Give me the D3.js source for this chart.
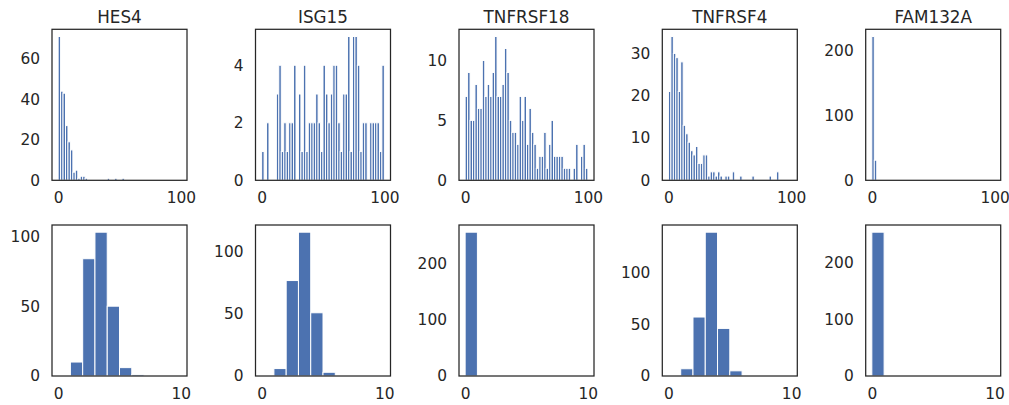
<!DOCTYPE html>
<html>
<head>
<meta charset="utf-8">
<script src="https://cdn.jsdelivr.net/npm/d3@7"></script>
<style>
    body { margin: 0; background: #fff; }
    svg { display: block; }
    text { font-family: "DejaVu Sans", sans-serif; fill: #262626; }
</style>
</head>
<body>
<svg id="chart" width="1009" height="405"></svg>
<script>
const genes = ["HES4", "ISG15", "TNFRSF18", "TNFRSF4", "FAM132A"];

// top row: raw counts, 50 bins over 0..100
const hes4Raw = [71, 44, 43, 27, 19, 15, 4, 5, 1, 2, 2, 1, 0, 0, 0, 0, 0, 0, 0, 0,
    1, 0, 0, 1, 0, 0, 1, 0, 0, 0, 0, 0, 0, 0, 0, 0, 0, 0, 0, 0,
    0, 0, 0, 0, 0, 0, 0, 0, 0, 0];
const isg15Raw = [1, 0, 2, 0, 0, 0, 3, 4, 1, 2, 1, 2, 2, 4, 0, 3, 1, 4, 1, 2,
    2, 2, 3, 2, 1, 4, 3, 2, 3, 4, 4, 2, 1, 3, 3, 5, 1, 5, 5, 4,
    1, 2, 2, 0, 2, 2, 2, 2, 1, 4];
const tnfrsf18Raw = [7, 9, 5, 5, 8, 6, 6, 10, 7, 8, 7, 9, 12, 7, 7, 8, 11, 9, 5, 4,
    4, 3, 7, 5, 7, 3, 6, 4, 3, 1, 2, 2, 4, 1, 3, 5, 2, 2, 2, 2,
    1, 1, 1, 0, 1, 3, 0, 2, 3, 1];
const tnfrsf4Raw = [21, 34, 30, 29, 21, 28, 13, 11, 9, 7, 6, 8, 4, 4, 6, 6, 1, 2, 2, 1,
    2, 1, 0, 1, 1, 0, 2, 0, 0, 1, 0, 0, 0, 0, 1, 0, 0, 0, 0, 0,
    0, 1, 0, 0, 2, 0, 0, 0, 0, 0];
const fam132aRaw = [222, 31, 0, 0, 0, 0, 0, 0, 0, 0, 0, 0, 0, 0, 0, 0, 0, 0, 0, 0,
    0, 0, 0, 0, 0, 0, 0, 0, 0, 0, 0, 0, 0, 0, 0, 0, 0, 0, 0, 0,
    0, 0, 0, 0, 0, 0, 0, 0, 0, 0];

// bottom row: transformed values, 10 bins over 0..10
const hes4Log = [0, 10, 84, 103, 50, 6, 1, 0, 0, 0];
const isg15Log = [0, 6, 77, 116, 51, 3, 0, 0, 0, 0];
const tnfrsf18Log = [255, 0, 0, 0, 0, 0, 0, 0, 0, 0];
const tnfrsf4Log = [0, 7, 57, 139, 46, 5, 0, 0, 0, 0];
const fam132aLog = [253, 0, 0, 0, 0, 0, 0, 0, 0, 0];

const rawRange = [0, 100];
const logRange = [0, 10];
const rawXTicks = [0, 100];
const logXTicks = [0, 10];
const rawYTicks = [[0, 20, 40, 60], [0, 2, 4], [0, 5, 10], [0, 10, 20, 30], [0, 100, 200]];
const logYTicks = [[0, 50, 100], [0, 50, 100], [0, 100, 200], [0, 50, 100], [0, 100, 200]];

const rawRows = [hes4Raw, isg15Raw, tnfrsf18Raw, tnfrsf4Raw, fam132aRaw];
const logRows = [hes4Log, isg15Log, tnfrsf18Log, tnfrsf4Log, fam132aLog];

const cfg = {
    colLeft: [52, 255.5, 459, 662.3, 865.7],
    rowTop: [29.3, 225],
    w: 135,
    h: 151,
    barColor: "#4C72B0",
    edge: "#262626",
    tickFont: "15.4px",
    titleFont: "16.8px",
};

const svg = d3.select("#chart");

function drawPanel(col, row, counts, range, xTicks, yTicks, title) {
    var left = cfg.colLeft[col];
    var top = cfg.rowTop[row];
    var g = svg.append("g").attr("transform", "translate(" + left + "," + top + ")");

    // 5% margins like matplotlib autoscale
    var span = range[1] - range[0];
    var x = d3.scaleLinear()
        .domain([range[0] - span * 0.05, range[1] + span * 0.05])
        .range([0, cfg.w]);
    var binW = span / counts.length;
    var y = d3.scaleLinear()
        .domain([0, d3.max(counts) * 1.05])
        .range([cfg.h, 0]);

    var bins = counts.map((c, i) => ({ x0: range[0] + i * binW, x1: range[0] + (i + 1) * binW, c: c }))
        .filter(d => d.c > 0);

    g.selectAll("rect.bar")
        .data(bins)
        .enter()
        .append("rect")
        .attr("class", "bar")
        .attr("x", d => x(d.x0))
        .attr("width", d => x(d.x1) - x(d.x0))
        .attr("y", d => y(d.c))
        .attr("height", d => y(0) - y(d.c))
        .attr("fill", cfg.barColor)
        .attr("stroke", "#fff")
        .attr("stroke-width", 1);

    var xAxis = g.append("g")
        .attr("transform", "translate(0," + cfg.h + ")")
        .call(d3.axisBottom(x).tickValues(xTicks).tickFormat(d3.format("d")).tickSize(0).tickPadding(12));
    var yAxis = g.append("g")
        .call(d3.axisLeft(y).tickValues(yTicks).tickFormat(d3.format("d")).tickSize(0).tickPadding(12));

    [xAxis, yAxis].forEach(a => {
        a.select(".domain").remove();
        a.selectAll("text")
            .style("font-size", cfg.tickFont)
            .style("font-family", "DejaVu Sans, sans-serif")
            .attr("fill", "#262626");
    });

    // frame
    g.append("rect")
        .attr("width", cfg.w)
        .attr("height", cfg.h)
        .attr("fill", "none")
        .attr("stroke", cfg.edge)
        .attr("stroke-width", 1.25);

    if (title) {
        g.append("text")
            .attr("x", cfg.w / 2)
            .attr("y", -6.6)
            .attr("text-anchor", "middle")
            .style("font-size", cfg.titleFont)
            .text(title);
    }
}

genes.forEach((gene, i) => {
    drawPanel(i, 0, rawRows[i], rawRange, rawXTicks, rawYTicks[i], gene);
    drawPanel(i, 1, logRows[i], logRange, logXTicks, logYTicks[i], null);
});
</script>
</body>
</html>
